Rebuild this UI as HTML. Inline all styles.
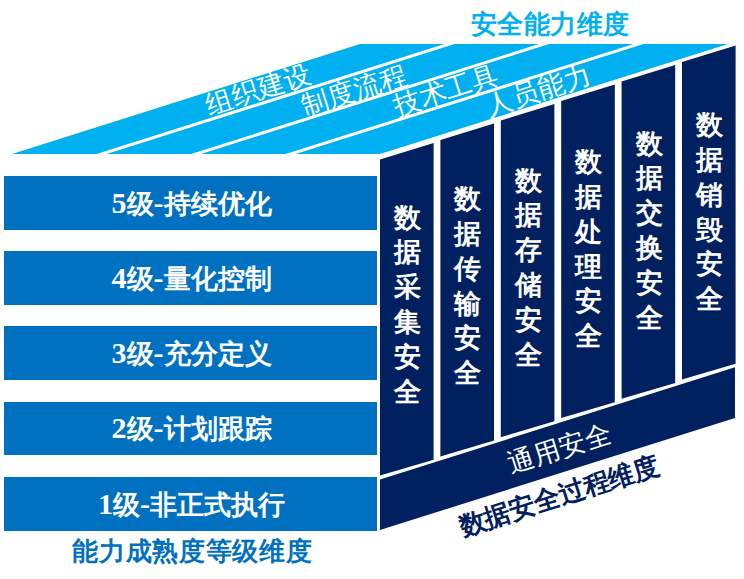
<!DOCTYPE html>
<html><head><meta charset="utf-8"><style>html,body{margin:0;padding:0;background:#fff;width:744px;height:579px;overflow:hidden}svg{display:block}</style></head>
<body>
<svg width="744" height="579" viewBox="0 0 744 579">
<rect x="4" y="176" width="373" height="54" fill="#0070C0"/>
<text x="191.5" y="212.5" text-anchor="middle" font-family="'Liberation Serif', serif" font-weight="bold" font-size="26.5" fill="#fff"><tspan font-size="30">5</tspan>级<tspan font-size="30">-</tspan>持续优化</text>
<rect x="4" y="251" width="373" height="54" fill="#0070C0"/>
<text x="191.5" y="287.5" text-anchor="middle" font-family="'Liberation Serif', serif" font-weight="bold" font-size="26.5" fill="#fff"><tspan font-size="30">4</tspan>级<tspan font-size="30">-</tspan>量化控制</text>
<rect x="4" y="326" width="373" height="54" fill="#0070C0"/>
<text x="191.5" y="362.5" text-anchor="middle" font-family="'Liberation Serif', serif" font-weight="bold" font-size="26.5" fill="#fff"><tspan font-size="30">3</tspan>级<tspan font-size="30">-</tspan>充分定义</text>
<rect x="4" y="402" width="373" height="53" fill="#0070C0"/>
<text x="191.5" y="438.0" text-anchor="middle" font-family="'Liberation Serif', serif" font-weight="bold" font-size="26.5" fill="#fff"><tspan font-size="30">2</tspan>级<tspan font-size="30">-</tspan>计划跟踪</text>
<rect x="4" y="477" width="373" height="54" fill="#0070C0"/>
<text x="191.5" y="513.5" text-anchor="middle" font-family="'Liberation Serif', serif" font-weight="bold" font-size="26.5" fill="#fff"><tspan font-size="30">1</tspan>级<tspan font-size="30">-</tspan>非正式执行</text>
<polygon points="12,154 96.5,154 444.5,44 360,44" fill="#00B0F0"/>
<polygon points="106.5,154 191,154 539,44 454.5,44" fill="#00B0F0"/>
<polygon points="201,154 285.5,154 633.5,44 549,44" fill="#00B0F0"/>
<polygon points="295.5,154 380,154 728,44 643.5,44" fill="#00B0F0"/>
<polygon points="380.00,159.60 433.60,142.98 433.60,459.79 380.00,475.60" fill="#002060"/>
<text x="407.5" y="226.6" text-anchor="middle" font-family="'Liberation Serif', serif" font-weight="bold" font-size="27" fill="#fff">数</text>
<text x="407.5" y="261.4" text-anchor="middle" font-family="'Liberation Serif', serif" font-weight="bold" font-size="27" fill="#fff">据</text>
<text x="407.5" y="296.2" text-anchor="middle" font-family="'Liberation Serif', serif" font-weight="bold" font-size="27" fill="#fff">采</text>
<text x="407.5" y="331.0" text-anchor="middle" font-family="'Liberation Serif', serif" font-weight="bold" font-size="27" fill="#fff">集</text>
<text x="407.5" y="365.8" text-anchor="middle" font-family="'Liberation Serif', serif" font-weight="bold" font-size="27" fill="#fff">安</text>
<text x="407.5" y="400.6" text-anchor="middle" font-family="'Liberation Serif', serif" font-weight="bold" font-size="27" fill="#fff">全</text>
<polygon points="440.40,140.09 494.00,123.47 494.00,440.58 440.40,456.39" fill="#002060"/>
<text x="467.9" y="208.1" text-anchor="middle" font-family="'Liberation Serif', serif" font-weight="bold" font-size="27" fill="#fff">数</text>
<text x="467.9" y="242.9" text-anchor="middle" font-family="'Liberation Serif', serif" font-weight="bold" font-size="27" fill="#fff">据</text>
<text x="467.9" y="277.7" text-anchor="middle" font-family="'Liberation Serif', serif" font-weight="bold" font-size="27" fill="#fff">传</text>
<text x="467.9" y="312.5" text-anchor="middle" font-family="'Liberation Serif', serif" font-weight="bold" font-size="27" fill="#fff">输</text>
<text x="467.9" y="347.3" text-anchor="middle" font-family="'Liberation Serif', serif" font-weight="bold" font-size="27" fill="#fff">安</text>
<text x="467.9" y="382.1" text-anchor="middle" font-family="'Liberation Serif', serif" font-weight="bold" font-size="27" fill="#fff">全</text>
<polygon points="500.80,120.58 554.40,103.97 554.40,421.37 500.80,437.19" fill="#002060"/>
<text x="528.3" y="189.6" text-anchor="middle" font-family="'Liberation Serif', serif" font-weight="bold" font-size="27" fill="#fff">数</text>
<text x="528.3" y="224.4" text-anchor="middle" font-family="'Liberation Serif', serif" font-weight="bold" font-size="27" fill="#fff">据</text>
<text x="528.3" y="259.2" text-anchor="middle" font-family="'Liberation Serif', serif" font-weight="bold" font-size="27" fill="#fff">存</text>
<text x="528.3" y="294.0" text-anchor="middle" font-family="'Liberation Serif', serif" font-weight="bold" font-size="27" fill="#fff">储</text>
<text x="528.3" y="328.8" text-anchor="middle" font-family="'Liberation Serif', serif" font-weight="bold" font-size="27" fill="#fff">安</text>
<text x="528.3" y="363.6" text-anchor="middle" font-family="'Liberation Serif', serif" font-weight="bold" font-size="27" fill="#fff">全</text>
<polygon points="561.20,101.07 614.80,84.46 614.80,402.17 561.20,417.98" fill="#002060"/>
<text x="588.7" y="171.1" text-anchor="middle" font-family="'Liberation Serif', serif" font-weight="bold" font-size="27" fill="#fff">数</text>
<text x="588.7" y="205.9" text-anchor="middle" font-family="'Liberation Serif', serif" font-weight="bold" font-size="27" fill="#fff">据</text>
<text x="588.7" y="240.7" text-anchor="middle" font-family="'Liberation Serif', serif" font-weight="bold" font-size="27" fill="#fff">处</text>
<text x="588.7" y="275.5" text-anchor="middle" font-family="'Liberation Serif', serif" font-weight="bold" font-size="27" fill="#fff">理</text>
<text x="588.7" y="310.3" text-anchor="middle" font-family="'Liberation Serif', serif" font-weight="bold" font-size="27" fill="#fff">安</text>
<text x="588.7" y="345.1" text-anchor="middle" font-family="'Liberation Serif', serif" font-weight="bold" font-size="27" fill="#fff">全</text>
<polygon points="621.60,81.56 675.20,64.95 675.20,382.96 621.60,398.77" fill="#002060"/>
<text x="649.1" y="152.6" text-anchor="middle" font-family="'Liberation Serif', serif" font-weight="bold" font-size="27" fill="#fff">数</text>
<text x="649.1" y="187.4" text-anchor="middle" font-family="'Liberation Serif', serif" font-weight="bold" font-size="27" fill="#fff">据</text>
<text x="649.1" y="222.2" text-anchor="middle" font-family="'Liberation Serif', serif" font-weight="bold" font-size="27" fill="#fff">交</text>
<text x="649.1" y="257.0" text-anchor="middle" font-family="'Liberation Serif', serif" font-weight="bold" font-size="27" fill="#fff">换</text>
<text x="649.1" y="291.8" text-anchor="middle" font-family="'Liberation Serif', serif" font-weight="bold" font-size="27" fill="#fff">安</text>
<text x="649.1" y="326.6" text-anchor="middle" font-family="'Liberation Serif', serif" font-weight="bold" font-size="27" fill="#fff">全</text>
<polygon points="682.00,62.05 735.60,45.44 735.60,363.75 682.00,379.56" fill="#002060"/>
<text x="709.5" y="134.1" text-anchor="middle" font-family="'Liberation Serif', serif" font-weight="bold" font-size="27" fill="#fff">数</text>
<text x="709.5" y="168.9" text-anchor="middle" font-family="'Liberation Serif', serif" font-weight="bold" font-size="27" fill="#fff">据</text>
<text x="709.5" y="203.7" text-anchor="middle" font-family="'Liberation Serif', serif" font-weight="bold" font-size="27" fill="#fff">销</text>
<text x="709.5" y="238.5" text-anchor="middle" font-family="'Liberation Serif', serif" font-weight="bold" font-size="27" fill="#fff">毁</text>
<text x="709.5" y="273.3" text-anchor="middle" font-family="'Liberation Serif', serif" font-weight="bold" font-size="27" fill="#fff">安</text>
<text x="709.5" y="308.1" text-anchor="middle" font-family="'Liberation Serif', serif" font-weight="bold" font-size="27" fill="#fff">全</text>
<polygon points="380,479.6 735,367.2 735,418 380,530" fill="#002060"/>
<text x="550.3" y="33" text-anchor="middle" font-family="'Liberation Sans', sans-serif" font-weight="bold" font-size="26" letter-spacing="0.5" fill="#00B0F0">安全能力维度</text>
<text x="192.3" y="560" text-anchor="middle" font-family="'Liberation Sans', sans-serif" font-weight="bold" font-size="26" letter-spacing="0.65" fill="#0070C0">能力成熟度等级维度</text>
<text transform="translate(258,89) rotate(-17.54)" x="0" y="9.8" text-anchor="middle" font-family="'Liberation Serif', serif" font-size="27" fill="#fff">组织建设</text>
<text transform="translate(354,90) rotate(-17.54)" x="0" y="9.8" text-anchor="middle" font-family="'Liberation Serif', serif" font-size="27" fill="#fff">制度流程</text>
<text transform="translate(445.5,90) rotate(-17.54)" x="0" y="9.8" text-anchor="middle" font-family="'Liberation Serif', serif" font-size="27" fill="#fff">技术工具</text>
<text transform="translate(538,90) rotate(-17.54)" x="0" y="9.8" text-anchor="middle" font-family="'Liberation Serif', serif" font-size="27" fill="#fff">人员能力</text>
<text transform="translate(559.5,447.8) rotate(-17.54)" x="0" y="9.5" text-anchor="middle" font-family="'Liberation Serif', serif" font-size="26.5" fill="#fff">通用安全</text>
<text transform="translate(559,495.5) rotate(-17.54)" x="0" y="9.2" text-anchor="middle" font-family="'Liberation Sans', sans-serif" font-weight="bold" font-size="26.2" fill="#002060">数据安全过程维度</text>
</svg>
</body></html>
